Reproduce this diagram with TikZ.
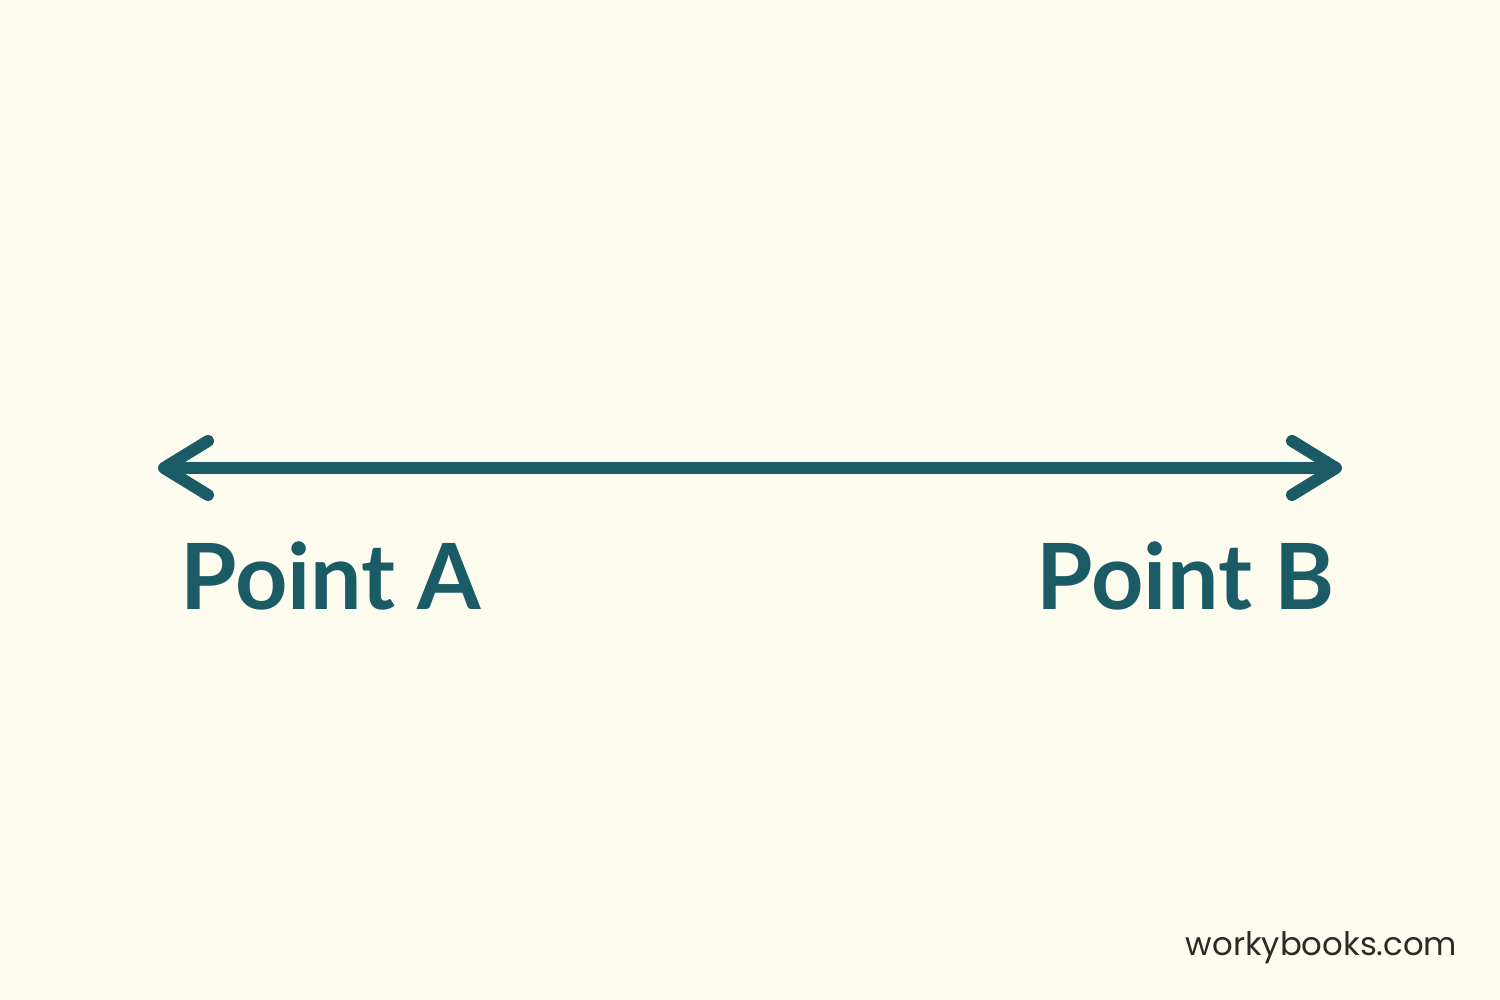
\documentclass[tikz,border=0pt]{standalone}
\usepackage{fontspec}
\setmainfont{Lato}
\newfontfamily\sitefont{Poppins}
\usepackage{xcolor}
\usetikzlibrary{arrows.meta}
\definecolor{cream}{HTML}{FEFCEE}
\definecolor{teal}{HTML}{1B5B66}
\definecolor{site}{HTML}{2A2A2A}

\begin{document}
\begin{tikzpicture}[
    line/.style = {teal, line width=3.4pt, line cap=round,
      {Straight Barb[length=4.4mm, width=5.4mm, round]}-{Straight Barb[length=4.4mm, width=5.4mm, round]}},
    label/.style = {teal, font=\fontsize{26}{30}\selectfont\bfseries, inner sep=0pt}
  ]
  \useasboundingbox (0,0) rectangle (15,10);
  \fill[cream] (0,0) rectangle (15,10);

  \coordinate (A) at (1.58, 5.32);
  \coordinate (B) at (13.42, 5.32);
  \draw[line] (A) -- (B);

  \node[label, anchor=base west] (labelA) at (1.80, 3.90) {Point A};
  \node[label, anchor=base east] (labelB) at (13.35, 3.90) {Point B};

  \node[site, anchor=base east, inner sep=0pt, font=\sitefont\fontsize{9.2}{11}\selectfont] (site) at (14.58, 0.44) {workybooks.com};
\end{tikzpicture}
\end{document}
